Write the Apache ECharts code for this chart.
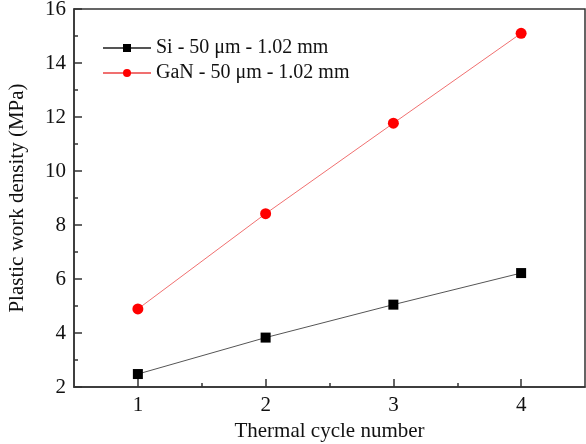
<!DOCTYPE html>
<html>
<head>
<meta charset="utf-8">
<script src="https://cdn.jsdelivr.net/npm/echarts@6/dist/echarts.min.js"></script>
<style>
  html, body { margin: 0; padding: 0; background: #fff; }
  #chart { width: 586px; height: 444px; }
</style>
</head>
<body>
<div id="chart"></div>
<script>
const cycles = [1, 2, 3, 4];
const siValues = [2.48, 3.83, 5.05, 6.22];
const ganValues = [4.89, 8.42, 11.77, 15.1];
const xTicks = [1, 2, 3, 4];
const xMinorTicks = [1.5, 2.5, 3.5];
const seriesNames = ["Si - 50 \u03bcm - 1.02 mm", "GaN - 50 \u03bcm - 1.02 mm"];

const font = "Liberation Serif";
const axisColor = "#333";
const chart = echarts.init(document.getElementById("chart"));

function pairs(ys) {
  return cycles.map((c, i) => [c, ys[i]]);
}

chart.setOption({
  animation: false,
  grid: {
    left: 74, right: 1, top: 9, bottom: 57,
    outerBoundsMode: "none",
    show: true, borderColor: axisColor, borderWidth: 1.5
  },
  legend: {
    orient: "vertical",
    left: 97, top: 33,
    itemWidth: 48, itemHeight: 10, itemGap: 5,
    textStyle: { fontFamily: font, fontSize: 20, color: "#111" },
    data: seriesNames
  },
  xAxis: [
    {
      type: "value",
      min: 0.5, max: 4.5,
      name: "Thermal cycle number",
      nameLocation: "middle", nameGap: 33,
      nameTextStyle: { color: "#111", fontFamily: font, fontSize: 21 },
      axisLine: { onZero: false, lineStyle: { color: axisColor, width: 1.5 } },
      axisTick: { inside: true, length: 8, customValues: xTicks, lineStyle: { color: axisColor, width: 1.5 } },
      axisLabel: { customValues: xTicks, color: "#111", fontFamily: font, fontSize: 21, margin: 8 },
      splitLine: { show: false }
    },
    {
      type: "value",
      position: "bottom",
      min: 0.5, max: 4.5,
      axisLine: { show: false, onZero: false },
      axisTick: { inside: true, length: 4, customValues: xMinorTicks, lineStyle: { color: axisColor, width: 1.5 } },
      axisLabel: { show: false },
      splitLine: { show: false }
    }
  ],
  yAxis: {
    type: "value",
    min: 2, max: 16, interval: 2,
    name: "Plastic work density (MPa)",
    nameLocation: "middle", nameGap: 46,
    nameTextStyle: { color: "#111", fontFamily: font, fontSize: 21 },
    axisLine: { onZero: false, lineStyle: { color: axisColor, width: 1.5 } },
    axisTick: { inside: true, length: 8, lineStyle: { color: axisColor, width: 1.5 } },
    minorTick: { show: true, splitNumber: 2, length: 4, lineStyle: { color: axisColor, width: 1.5 } },
    axisLabel: { color: "#111", fontFamily: font, fontSize: 21, margin: 8 },
    splitLine: { show: false }
  },
  series: [
    {
      name: seriesNames[0],
      type: "line",
      data: pairs(siValues),
      symbol: "rect",
      symbolSize: 10,
      itemStyle: { color: "#000" },
      lineStyle: { color: "#555", width: 1 }
    },
    {
      name: seriesNames[1],
      type: "line",
      data: pairs(ganValues),
      symbol: "circle",
      symbolSize: 11,
      itemStyle: { color: "#ff0000" },
      lineStyle: { color: "#f07070", width: 1 }
    }
  ]
});
</script>
</body>
</html>
